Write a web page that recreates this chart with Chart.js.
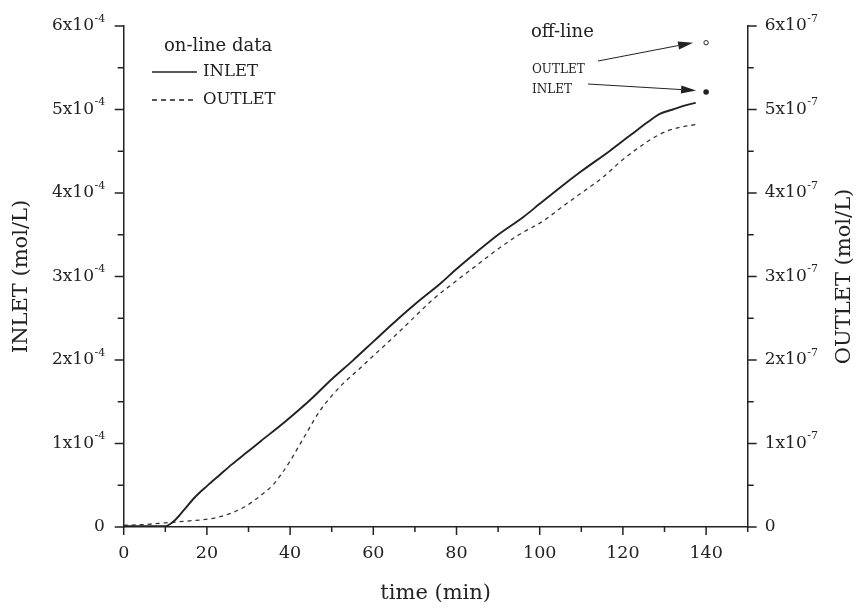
<!DOCTYPE html>
<html>
<head>
<meta charset="utf-8">
<script src="https://cdn.jsdelivr.net/npm/chart.js@4"></script>
<style>
  html, body { margin:0; padding:0; background:#fff; }
  #wrap { width:856px; height:609px; }
</style>
</head>
<body>
<div id="wrap"><canvas id="chart" width="856" height="609"></canvas></div>
<script>
'use strict';

// ── Data (time in min, INLET in 1e-4 mol/L, OUTLET in 1e-7 mol/L) ──
const TIME_IN = [0, 10, 11, 12.5, 14.6, 17, 20, 23, 26, 29, 33, 39, 45, 50, 55, 60, 65, 71, 76, 80,
                 85, 90, 96, 100, 105, 110, 117, 122, 126, 129, 132, 135, 137.5];
const INLET   = [0.01, 0.01, 0.03, 0.09, 0.21, 0.35, 0.49, 0.62, 0.75, 0.87, 1.03, 1.27, 1.53, 1.77, 1.99, 2.22, 2.45, 2.71, 2.91, 3.09,
                 3.30, 3.50, 3.71, 3.87, 4.07, 4.26, 4.51, 4.70, 4.85, 4.95, 5.00, 5.05, 5.08];

const TIME_OUT = [0, 5, 10, 15, 21, 25, 29, 33, 36, 38, 40, 42, 44, 47, 50, 53, 57, 60, 65, 70,
                  74, 80, 85, 90, 95, 101, 105, 110, 115, 120, 124, 128, 131, 134, 137.5];
const OUTLET   = [0.02, 0.03, 0.05, 0.07, 0.10, 0.15, 0.24, 0.38, 0.51, 0.64, 0.79, 0.96, 1.13, 1.38, 1.57, 1.73, 1.91, 2.05, 2.28, 2.52,
                  2.71, 2.95, 3.14, 3.33, 3.50, 3.67, 3.82, 4.00, 4.18, 4.40, 4.55, 4.68, 4.75, 4.79, 4.82];

// off-line samples
const OFF_TIME   = [140];
const OFF_INLET  = [5.21];
const OFF_OUTLET = [5.80];

const X_LABELS = [0, 20, 40, 60, 80, 100, 120, 140];
const Y_LABELS = [0, 1, 2, 3, 4, 5, 6];

// ── Style ─────────────────────────────────────────────────
const INK  = '#222';
const FAM  = "'DejaVu Serif', 'Liberation Serif', serif";

const pts = (xs, ys) => xs.map((x, i) => ({ x, y: ys[i] }));

// ── Axis ticks, labels, legend & notes ───────────────────
const decor = {
  id: 'decor',
  afterDraw(chart) {
    const ctx = chart.ctx;
    const { x, y, y2 } = chart.scales;
    const a = chart.chartArea;
    ctx.save();
    ctx.strokeStyle = INK;
    ctx.fillStyle = INK;
    ctx.lineWidth = 1.5;

    // tick marks
    x.ticks.forEach(t => {
      const px = x.getPixelForValue(t.value);
      const len = t.value % 20 === 0 ? 8 : 5;
      ctx.beginPath(); ctx.moveTo(px, a.bottom); ctx.lineTo(px, a.bottom + len); ctx.stroke();
    });
    [[y, -1, a.left], [y2, 1, a.right]].forEach(([s, dir, ax]) => {
      s.ticks.forEach(t => {
        const py = s.getPixelForValue(t.value);
        const len = Number.isInteger(t.value) ? 9 : 6;
        ctx.beginPath(); ctx.moveTo(ax, py); ctx.lineTo(ax + dir * len, py); ctx.stroke();
      });
    });

    // x labels
    ctx.font = `17.5px ${FAM}`;
    ctx.textAlign = 'center';
    ctx.textBaseline = 'middle';
    X_LABELS.forEach(v => ctx.fillText(String(v), x.getPixelForValue(v), a.bottom + 26));

    // y labels with superscript exponent
    const yLabel = (v, exp, px, py, align) => {
      ctx.textBaseline = 'middle';
      ctx.textAlign = 'left';
      ctx.font = `17px ${FAM}`;
      if (v === 0) {
        const w = ctx.measureText('0').width;
        ctx.fillText('0', align === 'right' ? px - w : px, py);
        return;
      }
      const main = `${v}x10`;
      const w1 = ctx.measureText(main).width;
      ctx.font = `11px ${FAM}`;
      const w2 = ctx.measureText(exp).width;
      const x0 = align === 'right' ? px - w1 - w2 : px;
      ctx.font = `17px ${FAM}`;
      ctx.fillText(main, x0, py);
      ctx.font = `11px ${FAM}`;
      ctx.fillText(exp, x0 + w1 + 0.5, py - 7);
    };
    Y_LABELS.forEach(v => {
      yLabel(v, '-4', a.left - 19, y.getPixelForValue(v), 'right');
      yLabel(v, '-7', a.right + 17, y2.getPixelForValue(v), 'left');
    });

    // axis titles
    ctx.font = `21px ${FAM}`;
    ctx.textAlign = 'center';
    ctx.textBaseline = 'middle';
    ctx.fillText('time (min)', (a.left + a.right) / 2, 594);
    const midY = (a.top + a.bottom) / 2;
    ctx.save(); ctx.translate(22, midY); ctx.rotate(-Math.PI / 2);
    ctx.fillText('INLET (mol/L)', 0, 0); ctx.restore();
    ctx.save(); ctx.translate(845, midY); ctx.rotate(-Math.PI / 2);
    ctx.fillText('OUTLET (mol/L)', 0, 0); ctx.restore();

    // legend
    ctx.textAlign = 'left';
    ctx.font = `18px ${FAM}`;
    ctx.fillText('on-line data', 164, 46);
    ctx.font = `16.5px ${FAM}`;
    ctx.fillText('INLET', 203, 72);
    ctx.fillText('OUTLET', 203, 100);
    ctx.lineWidth = 1.3;
    ctx.beginPath(); ctx.moveTo(152, 72); ctx.lineTo(197, 72); ctx.stroke();
    ctx.setLineDash([5, 4]);
    ctx.beginPath(); ctx.moveTo(152, 100); ctx.lineTo(193, 100); ctx.stroke();
    ctx.setLineDash([]);

    // off-line notes with arrows
    ctx.font = `18px ${FAM}`;
    ctx.fillText('off-line', 531, 32);
    ctx.font = `12px ${FAM}`;
    ctx.fillText('OUTLET', 532, 70);
    ctx.fillText('INLET', 532, 90);
    const arrow = (x0, y0, x1, y1) => {
      const ang = Math.atan2(y1 - y0, x1 - x0);
      const hl = 15, hw = 4;
      ctx.lineWidth = 1;
      ctx.beginPath(); ctx.moveTo(x0, y0);
      ctx.lineTo(x1 - hl * Math.cos(ang), y1 - hl * Math.sin(ang)); ctx.stroke();
      ctx.beginPath();
      ctx.moveTo(x1, y1);
      ctx.lineTo(x1 - hl * Math.cos(ang) + hw * Math.sin(ang), y1 - hl * Math.sin(ang) - hw * Math.cos(ang));
      ctx.lineTo(x1 - hl * Math.cos(ang) - hw * Math.sin(ang), y1 - hl * Math.sin(ang) + hw * Math.cos(ang));
      ctx.closePath(); ctx.fill();
    };
    const ox = x.getPixelForValue(OFF_TIME[0]);
    arrow(598, 61, ox - 13, y2.getPixelForValue(OFF_OUTLET[0]));
    arrow(588, 84, ox - 10, y.getPixelForValue(OFF_INLET[0]) - 1.5);

    ctx.restore();
  }
};

// ── Chart ─────────────────────────────────────────────────
new Chart(document.getElementById('chart'), {
  type: 'scatter',
  data: {
    datasets: [
      {
        label: 'INLET',
        data: pts(TIME_IN, INLET),
        yAxisID: 'y',
        showLine: true,
        borderColor: INK,
        borderWidth: 1.9,
        pointRadius: 0,
        cubicInterpolationMode: 'monotone',
      },
      {
        label: 'OUTLET',
        data: pts(TIME_OUT, OUTLET),
        yAxisID: 'y2',
        showLine: true,
        borderColor: '#333',
        borderWidth: 1.3,
        borderDash: [4, 4],
        pointRadius: 0,
        cubicInterpolationMode: 'monotone',
      },
      {
        label: 'INLET off-line',
        data: pts(OFF_TIME, OFF_INLET),
        yAxisID: 'y',
        pointRadius: 2.8,
        pointBackgroundColor: INK,
        pointBorderColor: INK,
        pointBorderWidth: 0,
      },
      {
        label: 'OUTLET off-line',
        data: pts(OFF_TIME, OFF_OUTLET),
        yAxisID: 'y2',
        pointRadius: 2.2,
        pointBackgroundColor: '#fff',
        pointBorderColor: INK,
        pointBorderWidth: 1,
      }
    ]
  },
  options: {
    responsive: false,
    animation: false,
    layout: { padding: { left: 115.7, right: 100.3, top: 26, bottom: 74 } },
    plugins: { legend: { display: false }, tooltip: { enabled: false } },
    scales: {
      x: {
        type: 'linear', min: 0, max: 150,
        ticks: { display: false, stepSize: 10 },
        grid: { display: false },
        border: { display: true, color: INK, width: 1.5 },
      },
      y: {
        position: 'left', min: 0, max: 6,
        ticks: { display: false, stepSize: 0.5 },
        grid: { display: false },
        border: { display: true, color: INK, width: 1.5 },
      },
      y2: {
        position: 'right', min: 0, max: 6,
        ticks: { display: false, stepSize: 0.5 },
        grid: { display: false },
        border: { display: true, color: INK, width: 1.5 },
      }
    }
  },
  plugins: [decor]
});
</script>
</body>
</html>
